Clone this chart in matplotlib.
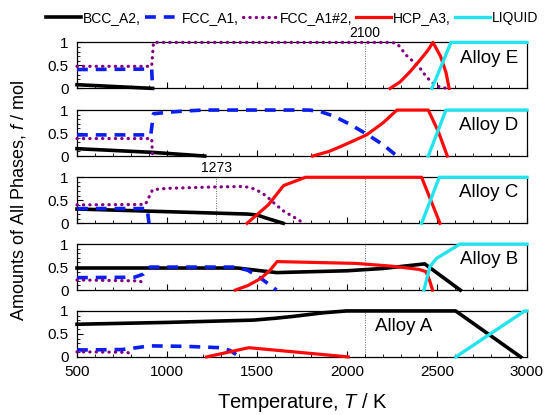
import matplotlib
matplotlib.use('Agg')
import matplotlib.pyplot as plt
from matplotlib.lines import Line2D
from matplotlib.ticker import MultipleLocator

plt.rcParams['font.family'] = ['Liberation Sans', 'DejaVu Sans']
plt.rcParams['mathtext.fontset'] = 'custom'
plt.rcParams['mathtext.rm'] = 'Liberation Sans'
plt.rcParams['mathtext.it'] = 'Liberation Sans:italic'

phases = ['BCC_A2', 'FCC_A1', 'FCC_A1#2', 'HCP_A3', 'LIQUID']

# Alloy E
e_bcc_T = [500, 920]
e_bcc_f = [0.08, 0.0]
e_fcc_T = [500, 915, 920]
e_fcc_f = [0.41, 0.42, 0.0]
e_fcc2_T = [500, 915, 925, 2250, 2280, 2330, 2400, 2442, 2475, 2510, 2555]
e_fcc2_f = [0.48, 0.48, 1.0, 1.0, 0.97, 0.72, 0.47, 0.25, 0.12, 0.04, 0.0]
e_hcp_T = [2240, 2295, 2350, 2405, 2450, 2478, 2520, 2550, 2568]
e_hcp_f = [0.0, 0.14, 0.36, 0.61, 0.83, 1.0, 0.7, 0.35, 0.0]
e_liq_T = [2472, 2578, 3000]
e_liq_f = [0.0, 1.0, 1.0]

# Alloy D
d_bcc_T = [500, 920, 1210]
d_bcc_f = [0.16, 0.08, 0.0]
d_fcc_T = [500, 910, 925, 1000, 1100, 1200, 1790, 1850, 1926, 2017, 2117, 2203, 2278]
d_fcc_f = [0.46, 0.46, 0.92, 0.95, 0.98, 1.0, 1.0, 0.97, 0.87, 0.69, 0.46, 0.24, 0.0]
d_fcc2_T = [500, 915, 920]
d_fcc2_f = [0.38, 0.38, 0.0]
d_hcp_T = [1810, 1900, 1961, 2030, 2109, 2200, 2278, 2452, 2508, 2558]
d_hcp_f = [0.0, 0.1, 0.2, 0.32, 0.46, 0.72, 1.0, 1.0, 0.53, 0.0]
d_liq_T = [2452, 2550, 3000]
d_liq_f = [0.0, 1.0, 1.0]

# Alloy C
c_bcc_T = [500, 1450, 1500, 1554, 1646]
c_bcc_f = [0.31, 0.2, 0.18, 0.11, 0.0]
c_fcc_T = [500, 890, 900]
c_fcc_f = [0.32, 0.32, 0.0]
c_fcc2_T = [500, 880, 920, 1000, 1273, 1420, 1460, 1500, 1550, 1600, 1650, 1720, 1760]
c_fcc2_f = [0.4, 0.41, 0.73, 0.76, 0.79, 0.8, 0.78, 0.72, 0.6, 0.42, 0.26, 0.1, 0.0]
c_hcp_T = [1445, 1563, 1648, 1770, 2415, 2517]
c_hcp_f = [0.0, 0.4, 0.82, 1.0, 1.0, 0.0]
c_liq_T = [2415, 2513, 3000]
c_liq_f = [0.0, 1.0, 1.0]

# Alloy B
b_bcc_T = [500, 1390, 1500, 1610, 1700, 2000, 2200, 2432, 2630]
b_bcc_f = [0.48, 0.48, 0.43, 0.38, 0.39, 0.42, 0.47, 0.57, 0.0]
b_fcc_T = [500, 820, 870, 905, 1380, 1450, 1517, 1609]
b_fcc_f = [0.27, 0.28, 0.35, 0.5, 0.5, 0.43, 0.27, 0.0]
b_fcc2_T = [500, 850, 880]
b_fcc2_f = [0.22, 0.2, 0.1]
b_hcp_T = [1380, 1450, 1520, 1570, 1612, 2050, 2250, 2400, 2440, 2460, 2476]
b_hcp_f = [0.0, 0.1, 0.25, 0.42, 0.62, 0.58, 0.52, 0.45, 0.4, 0.2, 0.0]
b_liq_T = [2428, 2461, 2498, 2628, 3000]
b_liq_f = [0.0, 0.51, 0.69, 1.0, 1.0]

# Alloy A
a_bcc_T = [500, 1000, 1480, 1600, 1700, 1870, 1998, 2604, 2965]
a_bcc_f = [0.71, 0.75, 0.8, 0.84, 0.88, 0.96, 1.0, 1.0, 0.0]
a_fcc_T = [500, 750, 850, 900, 1100, 1300, 1350, 1405]
a_fcc_f = [0.15, 0.16, 0.21, 0.24, 0.23, 0.2, 0.14, 0.0]
a_fcc2_T = [500, 780, 810]
a_fcc2_f = [0.11, 0.1, 0.03]
a_hcp_T = [1220, 1455, 2007]
a_hcp_f = [0.0, 0.2, 0.0]
a_liq_T = [2605, 2988, 3000]
a_liq_f = [0.0, 1.0, 1.0]

alloys = [
    ('Alloy E', [(e_bcc_T, e_bcc_f), (e_fcc_T, e_fcc_f), (e_fcc2_T, e_fcc2_f), (e_hcp_T, e_hcp_f), (e_liq_T, e_liq_f)]),
    ('Alloy D', [(d_bcc_T, d_bcc_f), (d_fcc_T, d_fcc_f), (d_fcc2_T, d_fcc2_f), (d_hcp_T, d_hcp_f), (d_liq_T, d_liq_f)]),
    ('Alloy C', [(c_bcc_T, c_bcc_f), (c_fcc_T, c_fcc_f), (c_fcc2_T, c_fcc2_f), (c_hcp_T, c_hcp_f), (c_liq_T, c_liq_f)]),
    ('Alloy B', [(b_bcc_T, b_bcc_f), (b_fcc_T, b_fcc_f), (b_fcc2_T, b_fcc2_f), (b_hcp_T, b_hcp_f), (b_liq_T, b_liq_f)]),
    ('Alloy A', [(a_bcc_T, a_bcc_f), (a_fcc_T, a_fcc_f), (a_fcc2_T, a_fcc2_f), (a_hcp_T, a_hcp_f), (a_liq_T, a_liq_f)]),
]
label_T = [2790, 2790, 2790, 2790, 2317]

styles = [
    dict(color='black', lw=2.6, ls='-'),
    dict(color='#0a1ef0', lw=2.6, ls=(0, (3, 2.2))),
    dict(color='#800080', lw=2.3, ls=(0, (0.1, 1.9)), dash_capstyle='round'),
    dict(color='#ff0a0a', lw=2.3, ls='-'),
    dict(color='#22e3ee', lw=2.4, ls='-'),
]

fig = plt.figure(figsize=(5.5, 4.15), dpi=100)

left, width, height = 0.14, 0.818, 0.1108
bottoms = [0.787, 0.624, 0.462, 0.301, 0.140]

for i, (name, series) in enumerate(alloys):
    ax = fig.add_axes([left, bottoms[i], width, height])
    for (T, f), st in zip(series, styles):
        ax.plot(T, f, clip_on=False, zorder=3, **st)
    ax.axvline(2100, color='#666666', lw=0.7, ls=(0, (1, 1.5)), zorder=1)
    if name == 'Alloy C':
        ax.axvline(1273, color='#666666', lw=0.7, ls=(0, (1, 1.5)), zorder=1)
        ax.text(1273, 1.05, '1273', ha='center', va='bottom', fontsize=10)
    if name == 'Alloy E':
        ax.text(2100, 1.05, '2100', ha='center', va='bottom', fontsize=10)
    ax.text(label_T[i], 0.66, name, ha='center', va='center', fontsize=13.5)
    ax.set_xlim(500, 3000)
    ax.set_ylim(0, 1)
    ax.set_yticks([0, 0.5, 1])
    ax.set_yticklabels(['0', '0.5', '1'])
    ax.yaxis.set_minor_locator(MultipleLocator(0.1))
    ax.xaxis.set_major_locator(MultipleLocator(500))
    ax.xaxis.set_minor_locator(MultipleLocator(100))
    ax.tick_params(which='both', direction='in', top=False, right=False, labelsize=11)
    ax.tick_params(which='major', length=4, width=0.8, pad=6)
    ax.tick_params(which='minor', length=2.2, width=0.6)
    if i < len(alloys) - 1:
        ax.tick_params(axis='x', labelbottom=False)
    for sp in ax.spines.values():
        sp.set_linewidth(0.9)

handles = [Line2D([], [], **st) for st in styles]
labels = [p + ',' for p in phases[:-1]] + [phases[-1]]
fig.legend(handles, labels, loc='center left', bbox_to_anchor=(0.084, 0.957),
           ncol=5, frameon=False, fontsize=10, handlelength=2.5,
           handletextpad=0.15, columnspacing=0.3, borderpad=0, borderaxespad=0)

fig.text(0.033, 0.518, 'Amounts of All Phases, $f$ / mol', rotation=90,
         ha='center', va='center', fontsize=13)
fig.text(0.549, 0.029, 'Temperature, $T$ / K', ha='center', va='center', fontsize=14.5)

fig.savefig('out.png', dpi=100)
